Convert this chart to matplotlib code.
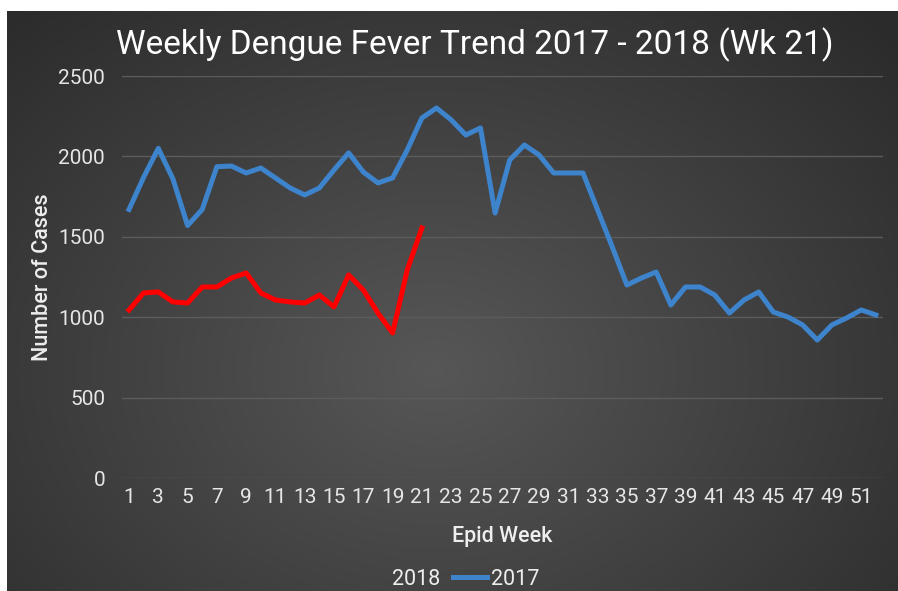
import numpy as np
import matplotlib
matplotlib.use("Agg")
import matplotlib.pyplot as plt
from matplotlib.lines import Line2D

plt.rcParams['font.family'] = ['Roboto', 'DejaVu Sans']

# weekly case counts
weeks_2017 = list(range(1, 53))
cases_2017 = [1670, 1870, 2050, 1860, 1570, 1670, 1936, 1940, 1897, 1928,
              1866, 1804, 1760, 1804, 1916, 2022, 1903, 1835, 1866, 2040,
              2239, 2301, 2227, 2133, 2177, 1648, 1978, 2071, 2009, 1897,
              1897, 1897, 1667, 1437, 1200, 1244, 1281, 1076, 1188, 1188,
              1138, 1026, 1107, 1157, 1032, 1001, 952, 858, 952, 995,
              1045, 1014]
weeks_2018 = list(range(1, 22))
cases_2018 = [1045, 1151, 1157, 1095, 1088, 1188, 1188, 1244, 1275, 1151,
              1107, 1095, 1088, 1138, 1064, 1263, 1169, 1026, 902, 1294,
              1555]
xticks = list(range(1, 53, 2))
yticks = [0, 500, 1000, 1500, 2000, 2500]

fig = plt.figure(figsize=(8.98, 5.91), dpi=100, facecolor='white')

# dark radial-gradient background, white margin on top and left like the screenshot
bg = fig.add_axes([7 / 898, 0, 891 / 898, 580 / 591], zorder=-1)
gx, gy = np.meshgrid(np.linspace(0, 1, 300), np.linspace(0, 1, 200))
r = np.sqrt(((gx - 0.48) / 0.75) ** 2 + ((gy - 0.62) / 0.9) ** 2)
shade = np.clip(0.34 - 0.18 * r, 0.17, 0.34)
bg.imshow(np.dstack([shade, shade, shade]), aspect='auto', extent=[0, 1, 0, 1])
bg.axis('off')

ax = fig.add_axes([0.1355, 0.1912, 0.848, 0.6802])
ax.set_facecolor('none')

ax.plot(weeks_2017, cases_2017, color='#3d84cc', lw=3.6, solid_joinstyle='round', label='2017')
ax.plot(weeks_2018, cases_2018, color='#ff0000', lw=3.6, solid_joinstyle='round', label='2018')

ax.set_xlim(0.5, 52.5)
ax.set_ylim(0, 2500)
ax.set_xticks(xticks)
ax.set_yticks(yticks)
ax.grid(axis='y', color='#5c5c5c', lw=1)
ax.set_axisbelow(True)
for s in ax.spines.values():
    s.set_visible(False)
ax.tick_params(length=0, colors='#e6e6e6', labelsize=15)
ax.tick_params(axis='y', pad=12)
ax.tick_params(axis='x', pad=7)

ax.set_xlabel('Epid Week', color='#eeeeee', fontsize=15.5, fontweight='medium', labelpad=14)
ax.set_ylabel('Number of Cases', color='#eeeeee', fontsize=15.5, fontweight='medium', labelpad=4)
fig.text(0.529, 0.925, 'Weekly Dengue Fever Trend 2017 - 2018 (Wk 21)', color='white',
         fontsize=24, ha='center', va='center')

handles = [Line2D([], [], linestyle='none'), Line2D([], [], color='#3d84cc', lw=3.6)]
ax.legend(handles, ['2018', '2017'], ncol=2, loc='center', bbox_to_anchor=(0.497, 0.02),
          bbox_transform=fig.transFigure, frameon=False, fontsize=15.5, labelcolor='#eeeeee',
          handlelength=1.6, handletextpad=0.2, columnspacing=0.6)

fig.savefig('out.png', dpi=100, facecolor='white')
